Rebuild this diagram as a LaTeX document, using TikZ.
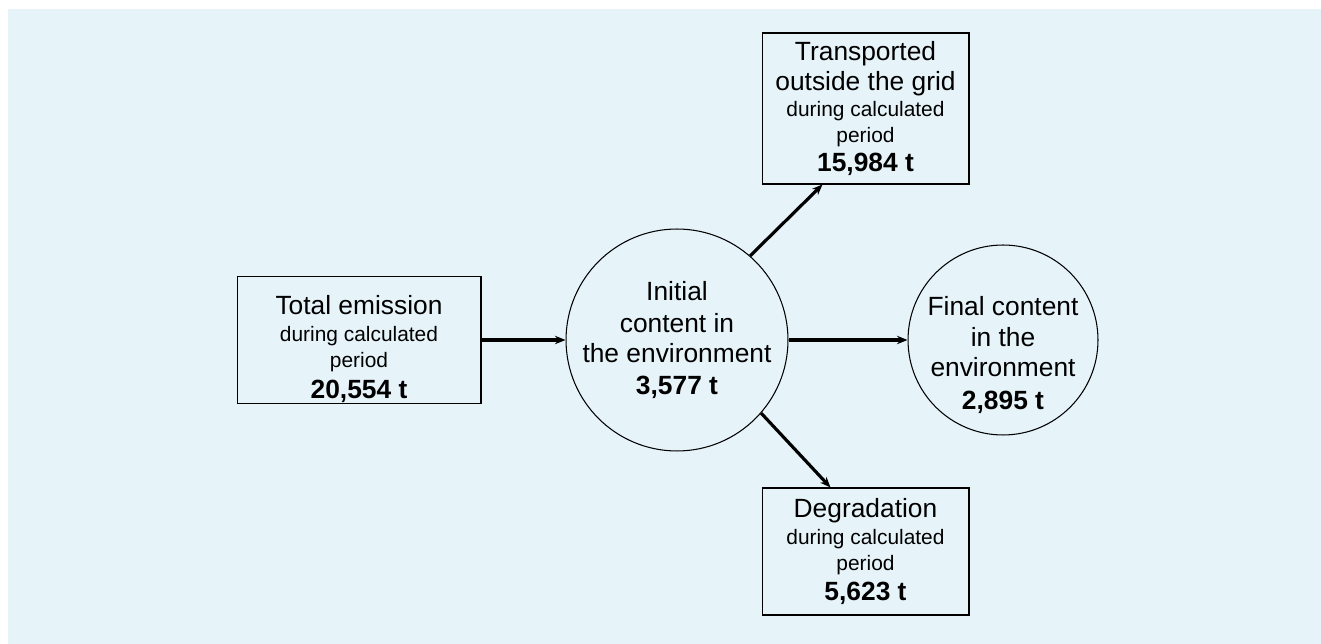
\documentclass[tikz,border=0pt]{standalone}
\usepackage{fontspec}
\setmainfont{Liberation Sans}
\usepackage{tikz}
\usetikzlibrary{calc, arrows.meta}
\definecolor{bgblue}{RGB}{230,244,250}
\newcommand{\sml}[1]{{\fontsize{11.9}{12}\selectfont #1}}

\begin{document}
\begin{tikzpicture}[x=0.02cm,y=-0.02cm,
		flowbox/.style={draw,line width=0.6pt,inner sep=0pt,align=center,font=\fontsize{15}{15}\selectfont},
		flowcirc/.style={draw,circle,line width=0.6pt,inner sep=-1cm,align=center,font=\fontsize{15}{15}\selectfont},
		flow/.style={-{Stealth[length=6pt,width=4.8pt]},line width=1.8pt}]
		\useasboundingbox (0,0) rectangle (1321,644);
		\fill[bgblue] (8,9) rectangle (1321,644); %背景
		\node[flowbox,minimum width=4.88cm,minimum height=2.54cm](emission)at(359,340){\rule{0pt}{21pt}Total emission\\ \sml{during calculated}\\ \sml{period}\\[2.5pt] \textbf{20,554 t}};
		\node[flowcirc,minimum size=4.44cm](init)at(677,340){Initial\\[3pt] content in\\[2pt] the environment\\[3.5pt] \textbf{3,577 t}};
		\node[flowcirc,minimum size=3.8cm](final)at(1003,340){\rule{0pt}{28pt}Final content\\[2.5pt] in the\\[2pt] environment\\[3.5pt] \textbf{2,895 t}};
		\node[flowbox,minimum width=4.14cm,minimum height=3.02cm](trans)at(865.5,108.5){Transported\\[2pt] outside the grid\\ \sml{during calculated}\\ \sml{period}\\[1.5pt] \textbf{15,984 t}};
		\node[flowbox,minimum width=4.14cm,minimum height=2.54cm](degr)at(865.5,551.5){Degradation\\ \sml{during calculated}\\ \sml{period}\\[2pt] \textbf{5,623 t}};
		\draw[flow](emission.east)--(init.west); %排出
		\draw[flow](init.east)--(final.west);
		\draw[flow](init.49)--($(trans.south)+(-43,0)$); %輸送
		\draw[flow](init.-41)--($(degr.north)+(-35,0)$); %分解
	\end{tikzpicture}
\end{document}
